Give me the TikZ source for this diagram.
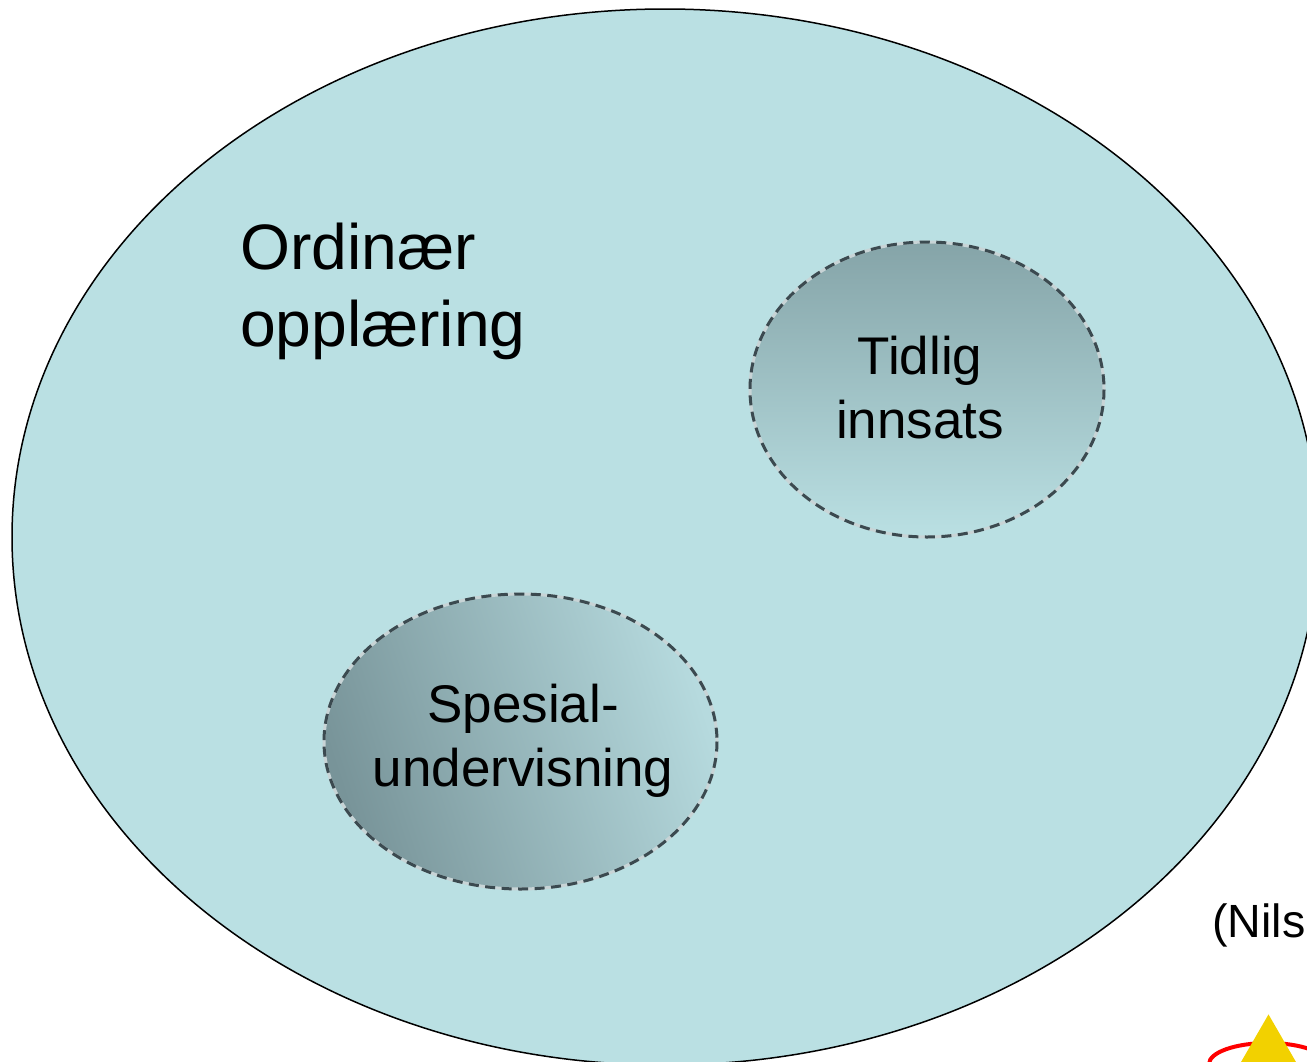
\documentclass[tikz,border=0pt]{standalone}
\usepackage{fontspec}
\setmainfont{Liberation Sans}
\usetikzlibrary{shapes.geometric}
\definecolor{bigfill}{HTML}{BAE0E3}
\definecolor{dashcol}{HTML}{3B4A50}
\definecolor{halo}{HTML}{C8D4D6}
\definecolor{tri}{HTML}{F2D100}
\definecolor{tidtop}{RGB}{133,164,168}
\definecolor{tidmid}{RGB}{155,190,195}
\definecolor{spedark}{RGB}{120,148,153}
\definecolor{spemid}{RGB}{160,195,200}
\definecolor{spelight}{RGB}{182,218,222}
\tikzset{
  bigell/.style={draw=black,line width=1.5pt,fill=bigfill,ellipse,inner sep=0pt,minimum width=1306pt,minimum height=1056pt},
  subell/.style={ellipse,inner sep=0pt,draw=halo,line width=3pt,minimum height=295pt},
  dashring/.style={draw=dashcol,line width=3pt,dash pattern=on 10pt off 6.5pt},
  big/.style={font=\fontsize{64.2pt}{77pt}\selectfont,align=left,inner sep=0pt,text=black},
  mid/.style={font=\fontsize{53pt}{64pt}\selectfont,align=center,inner sep=0pt,text=black},
  cite/.style={font=\fontsize{46.6pt}{56pt}\selectfont,inner sep=0pt,text=black},
}
\begin{document}
\begin{tikzpicture}[x=1pt,y=-1pt]
\useasboundingbox (0,0) rectangle (1307,1061);
\clip (0,0) rectangle (1307,1061);
\fill[white] (0,0) rectangle (1307,1061);
\node[bigell] (ord) at (665,537) {};
\node[subell,minimum width=354pt,top color=tidtop,middle color=tidmid,bottom color=bigfill] (tid) at (927,389.5) {};
\draw[dashring] (tid.center) ellipse (177 and 147.5);
\node[subell,minimum width=393pt,left color=spedark,middle color=spemid,right color=spelight,shading angle=108] (spe) at (520.5,741.5) {};
\draw[dashring] (spe.center) ellipse (196.5 and 147.5);
\node[big,anchor=north west] (ordt) at (240,223) {Ordinær\\opplæring};
\node[mid] (tidt) at (920,388) {Tidlig\\innsats};
\node[mid] (spet) at (523,741) {Spesial-\\undervisning};
\node[cite,anchor=base west] (nils) at (1212,937) {(Nils};
\node[draw=red,line width=4pt,ellipse,inner sep=0pt,minimum width=118pt,minimum height=42pt] (ring) at (1268,1064) {};
\node[fill=tri,regular polygon,regular polygon sides=3,inner sep=0pt,minimum size=130pt,anchor=north] (cone) at (1268.5,1014) {};
\end{tikzpicture}
\end{document}
